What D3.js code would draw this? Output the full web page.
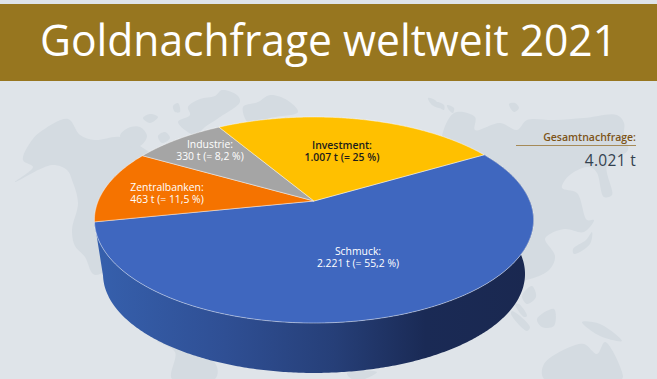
<!DOCTYPE html>
<html>
<head>
<meta charset="utf-8">
<script src="https://cdn.jsdelivr.net/npm/d3@7"></script>
<style>
html, body { margin: 0; padding: 0; background: #fff; }
svg { display: block; font-family: "Open Sans", sans-serif; }
</style>
</head>
<body>
<script>
var w = 657, h = 379;

// data, in the order the slices run clockwise
var categories = ["Schmuck", "Zentralbanken", "Industrie", "Investment"];
var tonnes = [2221, 463, 330, 1007];
var tonneLabels = ["2.221 t", "463 t", "330 t", "1.007 t"];
var shareLabels = ["55,2 %", "11,5 %", "8,2 %", "25 %"];
var total = "4.021 t";

var sliceColors = ["#3f67bf", "#f57300", "#a5a5a5", "#ffc000"];
var labelColors = ["#fff", "#fff", "#fff", "#1c1c1c"];
var labelWeights = [500, 500, 500, 600];
var labelSpots = [[358, 255], [167, 191], [210, 148], [342, 149]];

// background map, only decoration, traced by eye
var mapShapes = [
    [[15,182],[33,167],[23,160],[32,140],[43,130],[68,119],[80,135],[95,140],[120,137],[143,148],[200,200],[100,274],[93,274],[85,257],[75,246],[72,230],[78,203],[72,180],[67,170],[52,165]],
    [[120,136],[128,128],[140,127],[147,136],[140,146],[128,146]],
    [[143,118],[150,114],[158,117],[150,123]],
    [[158,136],[165,132],[170,138],[162,143]],
    [[173,106],[178,103],[180,112],[175,112]],
    [[188,107],[200,99],[215,96],[222,90],[237,95],[240,102],[220,117],[205,127],[195,135],[178,122],[190,115]],
    [[243,107],[258,102],[270,95],[287,100],[298,112],[270,118],[250,125]],
    [[428,98],[435,100],[440,108],[432,105]],
    [[437,102],[444,105],[444,110],[438,106]],
    [[447,105],[454,108],[453,113],[449,110]],
    [[509,104],[515,103],[519,108],[514,112]],
    [[454,113],[475,117],[475,130],[500,123],[517,130],[527,120],[554,120],[584,118],[617,115],[624,123],[624,135],[628,150],[607,165],[612,195],[604,197],[597,173],[590,167],[574,172],[565,180],[562,188],[577,193],[587,220],[594,220],[584,232],[565,229],[550,234],[545,239],[555,256],[550,269],[530,279],[500,280],[440,160]],
    [[592,232],[590,244],[574,254],[573,249],[586,240]],
    [[522,296],[532,286],[536,297],[527,304]],
    [[512,311],[530,327],[527,331],[511,314]],
    [[515,304],[519,304],[527,316],[524,317]],
    [[537,319],[554,309],[554,326],[542,327]],
    [[582,322],[600,324],[622,341],[600,336]],
    [[544,364],[570,347],[584,344],[597,354],[605,342],[622,372],[622,379],[544,379]],
    [[157,341],[175,352],[172,379],[215,379],[217,367],[200,350]],
    [[347,373],[377,372],[365,379],[352,379]]
];

var container = d3.select("body")
    .append("svg")
    .attr("width", w)
    .attr("height", h);

var defs = container.append("defs");
var sideGradient = defs.append("linearGradient")
    .attr("id", "sideGradient")
    .attr("gradientUnits", "userSpaceOnUse")
    .attr("x1", 95).attr("x2", 530).attr("y1", 0).attr("y2", 0);
[[0, "#3660ad"], [0.3, "#2f4f94"], [0.55, "#263f78"], [0.76, "#1a2a55"], [1, "#1a2850"]].forEach(function(s){
    sideGradient.append("stop").attr("offset", s[0]).attr("stop-color", s[1]);
});

container.append("rect")
    .attr("width", w).attr("height", h)
    .style("fill", "#dfe4e9");

var landLine = d3.line().curve(d3.curveCatmullRomClosed);
container.selectAll(".land")
    .data(mapShapes)
    .enter()
    .append("path")
    .attr("class", "land")
    .attr("d", landLine)
    .style("fill", "#d4dbe1");

// header band
container.append("rect")
    .attr("y", 4).attr("width", w).attr("height", 77)
    .style("fill", "#97761f");
container.append("text")
    .attr("x", 40).attr("y", 56)
    .attr("textLength", 577)
    .attr("lengthAdjust", "spacingAndGlyphs")
    .style("font-size", "44px")
    .style("font-weight", 500)
    .style("fill", "#fff")
    .text("Goldnachfrage weltweit 2021");

// the disc is a circle seen in perspective, so its center sits above the middle of the ellipse
var tilt = 0.1845;
function project(angle, r, level){
    var X = r * Math.sin(angle), Y = -r * Math.cos(angle);
    var shrink = level ? 0.961 : 1; // the lower rim is further from the viewer
    var d = 1 - tilt * Y;
    return [
        314 + 215.8 * shrink * X / d,
        (level ? 255.7 : 201) + 99.5 * shrink * Y / d
    ];
}

var startAngle = 59.5 * Math.PI / 180;
var pie = d3.pie()
    .sort(null)
    .startAngle(startAngle)
    .endAngle(startAngle + 2 * Math.PI);
var slices = pie(tonnes);

function rim(a0, a1, level){
    var n = Math.ceil(Math.abs(a1 - a0) / 0.01);
    return d3.range(n + 1).map(function(i){
        return project(a0 + (a1 - a0) * i / n, 1, level);
    });
}

// side wall, it only shows below the biggest slice
var front = slices[0];
var line = d3.line();
container.append("path")
    .attr("class", "side")
    .attr("d", line(rim(front.startAngle, front.endAngle, 0).concat(rim(front.endAngle, front.startAngle, 1))) + "Z")
    .style("fill", "url(#sideGradient)");

container.selectAll(".slice")
    .data(slices)
    .enter()
    .append("path")
    .attr("class", "slice")
    .attr("d", function(d){
        return line([project(0, 0, 0)].concat(rim(d.startAngle, d.endAngle, 0))) + "Z";
    })
    .style("fill", function(d, i){ return sliceColors[i]; })
    .style("stroke", "rgba(255,255,255,0.55)")
    .style("stroke-width", 0.8)
    .style("stroke-linejoin", "round");

var labels = container.selectAll(".labels")
    .data(categories)
    .enter()
    .append("text")
    .attr("class", "labels")
    .attr("text-anchor", "middle")
    .attr("y", function(d, i){ return labelSpots[i][1]; })
    .style("font-size", "10.4px")
    .style("font-weight", function(d, i){ return labelWeights[i]; })
    .style("fill", function(d, i){ return labelColors[i]; });
labels.append("tspan")
    .attr("x", function(d, i){ return labelSpots[i][0]; })
    .text(function(d){ return d + ":"; });
labels.append("tspan")
    .attr("x", function(d, i){ return labelSpots[i][0]; })
    .attr("dy", 12.3)
    .text(function(d, i){ return tonneLabels[i] + " (= " + shareLabels[i] + ")"; });

// total on the right
container.append("text")
    .attr("x", 636).attr("y", 141)
    .attr("text-anchor", "end")
    .style("font-size", "10.5px")
    .style("font-weight", 600)
    .style("fill", "#7d5418")
    .text("Gesamtnachfrage:");
container.append("line")
    .attr("x1", 516).attr("x2", 636).attr("y1", 145.5).attr("y2", 145.5)
    .style("stroke", "#a58a58")
    .style("stroke-width", 1);
container.append("text")
    .attr("x", 636).attr("y", 166)
    .attr("text-anchor", "end")
    .style("font-size", "15.5px")
    .style("font-weight", 500)
    .style("letter-spacing", "0.3px")
    .style("fill", "#33414f")
    .text(total);
</script>
</body>
</html>
